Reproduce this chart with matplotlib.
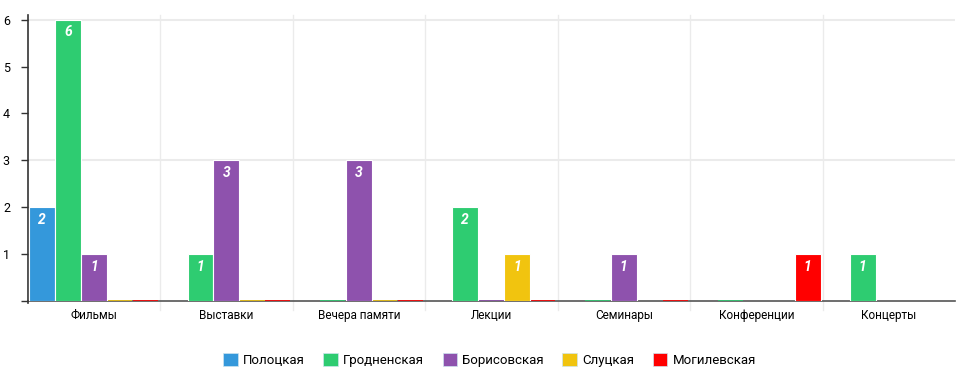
import numpy as np
import matplotlib.pyplot as plt
from matplotlib.patches import Patch

plt.rcParams['font.family'] = ['Roboto', 'DejaVu Sans']

categories = ['Фильмы', 'Выставки', 'Вечера памяти', 'Лекции', 'Семинары', 'Конференции', 'Концерты']
series_names = ['Полоцкая', 'Гродненская', 'Борисовская', 'Слуцкая', 'Могилевская']
colors = ['#3498db', '#2ecc71', '#8e52ad', '#f1c40f', '#ff0000']

nan = np.nan
polotsk = [2, nan, nan, nan, nan, nan, nan]
grodno = [6, 1, 0, 2, 0, 0, 1]
borisov = [1, 3, 3, 0, 1, nan, nan]
slutsk = [0, 0, 0, 1, nan, nan, nan]
mogilev = [0, 0, 0, 0, 0, 1, nan]
values = [polotsk, grodno, borisov, slutsk, mogilev]

fig = plt.figure(figsize=(9.79, 3.81), dpi=100)
ax = fig.add_axes([28 / 979, 1 - 301 / 381, (955 - 28) / 979, 286 / 381])

bw = 0.195
x = np.arange(len(categories))
for i, (vals, col) in enumerate(zip(values, colors)):
    vals = np.array(vals, dtype=float)
    pos = x - 0.5 + 0.01 + bw * (i + 0.5)
    mask = ~np.isnan(vals)
    pos, v = pos[mask], vals[mask]
    ax.bar(pos[v > 0], v[v > 0], width=bw, color=col, edgecolor='white', linewidth=0.8, zorder=3)
    ax.bar(pos[v == 0], v[v == 0], width=bw * 0.97, color=col, edgecolor=col, linewidth=1.2, zorder=2.5)
    for px, pv in zip(pos, v):
        if pv > 0:
            ax.text(px, pv - 0.12, f'{int(pv)}', ha='center', va='top', color='white',
                    fontsize=10, fontstyle='italic', fontweight='bold', zorder=4)

ax.set_xlim(-0.5, len(categories) - 0.5)
ax.set_ylim(0, 6.1)
ax.set_yticks([1, 2, 3, 4, 5, 6])
ax.set_yticks([0], minor=True)
ax.tick_params(axis='y', which='both', length=5, width=1, color='#333333', labelsize=9, pad=8)
ax.set_xticks(x)
ax.set_xticklabels(categories, fontsize=8.5)
ax.tick_params(axis='x', length=0, pad=6)

for b in np.arange(0.5, len(categories) - 1, 1):
    ax.axvline(b, color='#ebebeb', linewidth=1, zorder=0, ymin=-0.03, clip_on=False)
for yv in [3, 6]:
    ax.axhline(yv, color='#ebebeb', linewidth=1.5, zorder=0)

for s in ['top', 'right']:
    ax.spines[s].set_visible(False)
ax.spines['left'].set_color('#333333')
ax.spines['left'].set_linewidth(1.2)
ax.spines['left'].set_bounds(-0.05, 6.1)
ax.spines['bottom'].set_color('#555555')
ax.spines['bottom'].set_linewidth(1.2)
ax.spines['bottom'].set_zorder(2)

handles = [Patch(facecolor=c, edgecolor='#cde4f0', linewidth=0.5) for c in colors]
fig.legend(handles, series_names, loc='center', bbox_to_anchor=(0.5, 1 - 360 / 381), ncol=5,
           frameon=False, fontsize=9.5, handlelength=1.1, handleheight=1.2, columnspacing=1.4,
           handletextpad=0.4)

fig.savefig('out.png', dpi=100)
